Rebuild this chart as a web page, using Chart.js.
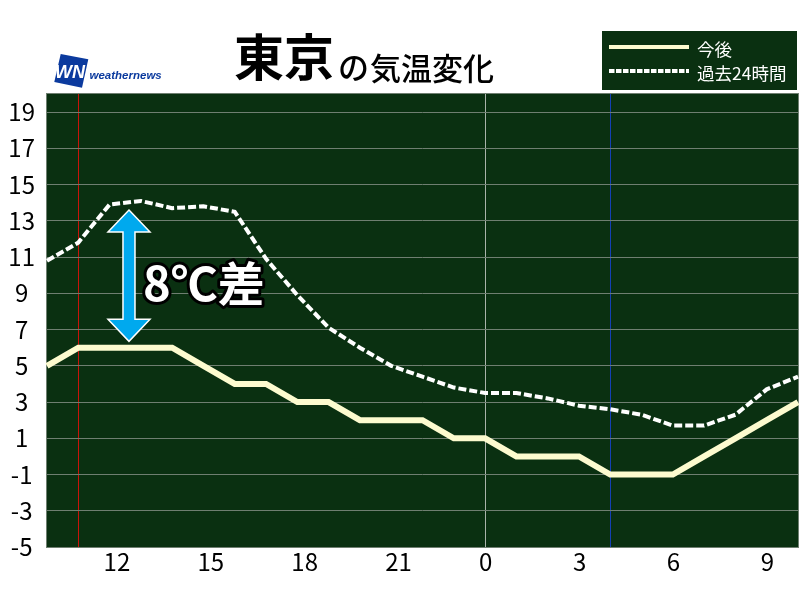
<!DOCTYPE html>
<html lang="ja">
<head>
<meta charset="utf-8">
<title>東京の気温変化</title>
<script src="https://cdn.jsdelivr.net/npm/chart.js@4"></script>
<style>
    html, body { margin: 0; padding: 0; background: #fff; }
    canvas { display: block; }
</style>
</head>
<body>
<canvas id="chart" width="800" height="600"></canvas>
<script>
const hours = [10, 11, 12, 13, 14, 15, 16, 17, 18, 19, 20, 21, 22, 23, 0, 1, 2, 3, 4, 5, 6, 7, 8, 9, 10];
const forecast = [5, 6, 6, 6, 6, 5, 4, 4, 3, 3, 2, 2, 2, 1, 1, 0, 0, 0, -1, -1, -1, 0, 1, 2, 3];
const past24 = [10.8, 11.8, 13.9, 14.1, 13.7, 13.8, 13.5, 10.9, 8.9, 7.1, 6.0, 5.0, 4.4, 3.8, 3.5, 3.5, 3.2, 2.8, 2.6, 2.3, 1.7, 1.7, 2.3, 3.7, 4.4];
const yTicks = [-5, -3, -1, 1, 3, 5, 7, 9, 11, 13, 15, 17, 19];
const xTickHours = [12, 15, 18, 21, 0, 3, 6, 9];
const diffFrom = 6.35;
const diffTo = 13.6;

const JP = '"Noto Sans CJK JP", "Noto Sans", sans-serif';
const PLOT_BG = "#0a3011";
const GRID = "#6f7f71";

function isLastHour(i) {
    return i === hours.length - 1;
}

function gridColor(ctx) {
    let h = hours[ctx.index];
    if (ctx.index === 1) return "#c8140a";   // 11時: 現在
    if (h === 0) return "#a9b3aa";
    if (h === 4) return "#1440b4";
    return "rgba(0,0,0,0)";
}

const background = {
    id: "background",
    beforeDraw(chart) {
        let {ctx, chartArea: a} = chart;
        ctx.save();
        ctx.fillStyle = PLOT_BG;
        ctx.fillRect(a.left, a.top, a.right - a.left, a.bottom - a.top);
        ctx.strokeStyle = GRID;
        ctx.lineWidth = 1;
        ctx.strokeRect(a.left - 0.5, a.top - 0.5, a.right - a.left + 1, a.bottom - a.top + 1);
        ctx.restore();
    }
};

function drawHeader(ctx) {
    ctx.textBaseline = "alphabetic";
    ctx.textAlign = "left";
    ctx.fillStyle = "#000";
    ctx.font = `bold 50px ${JP}`;
    ctx.fillText("東京", 234, 76);
    ctx.font = `500 31px ${JP}`;
    ctx.fillText("の", 338, 79);
    ctx.fillText("気温変化", 370, 80);

    // ロゴ
    ctx.fillStyle = "#0b3a9e";
    ctx.beginPath();
    ctx.moveTo(60.7, 54);
    ctx.lineTo(88.3, 59.3);
    ctx.lineTo(82, 87.7);
    ctx.lineTo(54.3, 82);
    ctx.closePath();
    ctx.fill();
    ctx.fillStyle = "#fff";
    ctx.font = 'italic bold 18px "Liberation Sans", sans-serif';
    ctx.fillText("WN", 55, 78);
    ctx.fillStyle = "#0b3a9e";
    ctx.font = 'italic bold 11.5px "Liberation Sans", sans-serif';
    ctx.fillText("weathernews", 89.5, 79);
}

function drawLegend(ctx) {
    ctx.fillStyle = PLOT_BG;
    ctx.fillRect(602, 31, 195, 59);
    ctx.lineCap = "butt";
    ctx.strokeStyle = "#fdfbcf";
    ctx.lineWidth = 4;
    ctx.beginPath();
    ctx.moveTo(609, 47);
    ctx.lineTo(689, 47);
    ctx.stroke();
    ctx.strokeStyle = "#fff";
    ctx.setLineDash([5.5, 1.5]);
    ctx.beginPath();
    ctx.moveTo(609, 71);
    ctx.lineTo(689, 71);
    ctx.stroke();
    ctx.setLineDash([]);
    ctx.fillStyle = "#fff";
    ctx.font = `17.5px ${JP}`;
    ctx.textBaseline = "middle";
    ctx.fillText("今後", 697, 49);
    ctx.fillText("過去24時間", 697, 73);
    ctx.textBaseline = "alphabetic";
}

function drawDiffArrow(chart) {
    let {ctx, scales} = chart;
    let cx = scales.x.getPixelForValue(2.62);
    let top = scales.y.getPixelForValue(diffTo);
    let bottom = scales.y.getPixelForValue(diffFrom);
    let head = 21, shaft = 6, headLen = 22;
    ctx.fillStyle = "#00a9ee";
    ctx.strokeStyle = "#fff";
    ctx.lineWidth = 1.5;
    ctx.lineJoin = "miter";
    ctx.beginPath();
    ctx.moveTo(cx, top);
    ctx.lineTo(cx + head, top + headLen);
    ctx.lineTo(cx + shaft, top + headLen);
    ctx.lineTo(cx + shaft, bottom - headLen);
    ctx.lineTo(cx + head, bottom - headLen);
    ctx.lineTo(cx, bottom);
    ctx.lineTo(cx - head, bottom - headLen);
    ctx.lineTo(cx - shaft, bottom - headLen);
    ctx.lineTo(cx - shaft, top + headLen);
    ctx.lineTo(cx - head, top + headLen);
    ctx.closePath();
    ctx.fill();
    ctx.stroke();

    ctx.font = `bold 47px ${JP}`;
    ctx.textAlign = "left";
    ctx.textBaseline = "alphabetic";
    ctx.lineJoin = "round";
    ctx.strokeStyle = "#000";
    ctx.lineWidth = 6;
    ctx.strokeText("8℃差", 143, 301);
    ctx.fillStyle = "#fff";
    ctx.fillText("8℃差", 143, 301);
}

const overlay = {
    id: "overlay",
    afterDraw(chart) {
        let {ctx} = chart;
        ctx.save();
        drawHeader(ctx);
        drawLegend(ctx);
        drawDiffArrow(chart);
        ctx.restore();
    }
};

new Chart(document.getElementById("chart"), {
    type: "line",
    data: {
        labels: hours,
        datasets: [{
            label: "今後",
            data: forecast,
            borderColor: "#fdfbcf",
            borderWidth: 6,
            pointRadius: 0,
            tension: 0,
            borderJoinStyle: "miter"
        }, {
            label: "過去24時間",
            data: past24,
            borderColor: "#fff",
            borderWidth: 4,
            borderDash: [8, 3],
            pointRadius: 0,
            tension: 0
        }]
    },
    options: {
        responsive: false,
        animation: false,
        devicePixelRatio: 1,
        layout: {padding: {top: 94, right: 2, left: 0, bottom: 0}},
        plugins: {legend: {display: false}, tooltip: {enabled: false}},
        scales: {
            x: {
                type: "category",
                afterFit: scale => { scale.height = 53; },
                border: {display: false},
                grid: {color: gridColor, lineWidth: 1, drawTicks: false},
                ticks: {
                    autoSkip: false,
                    maxRotation: 0,
                    align: "start",
                    labelOffset: -6,
                    padding: 0,
                    color: "#000",
                    font: {family: JP, size: 24},
                    callback: function (value, i) {
                        if (isLastHour(i) || i === 0) return "";
                        return xTickHours.includes(hours[i]) ? String(hours[i]) : "";
                    }
                }
            },
            y: {
                min: -5,
                max: 20,
                afterFit: scale => { scale.width = 47; },
                afterBuildTicks: scale => { scale.ticks = yTicks.map(v => ({value: v})); },
                border: {display: false},
                grid: {color: GRID, lineWidth: 1, drawTicks: false},
                ticks: {
                    crossAlign: "center",
                    padding: 12,
                    color: "#000",
                    font: {family: JP, size: 24}
                }
            }
        }
    },
    plugins: [background, overlay]
});
</script>
</body>
</html>
